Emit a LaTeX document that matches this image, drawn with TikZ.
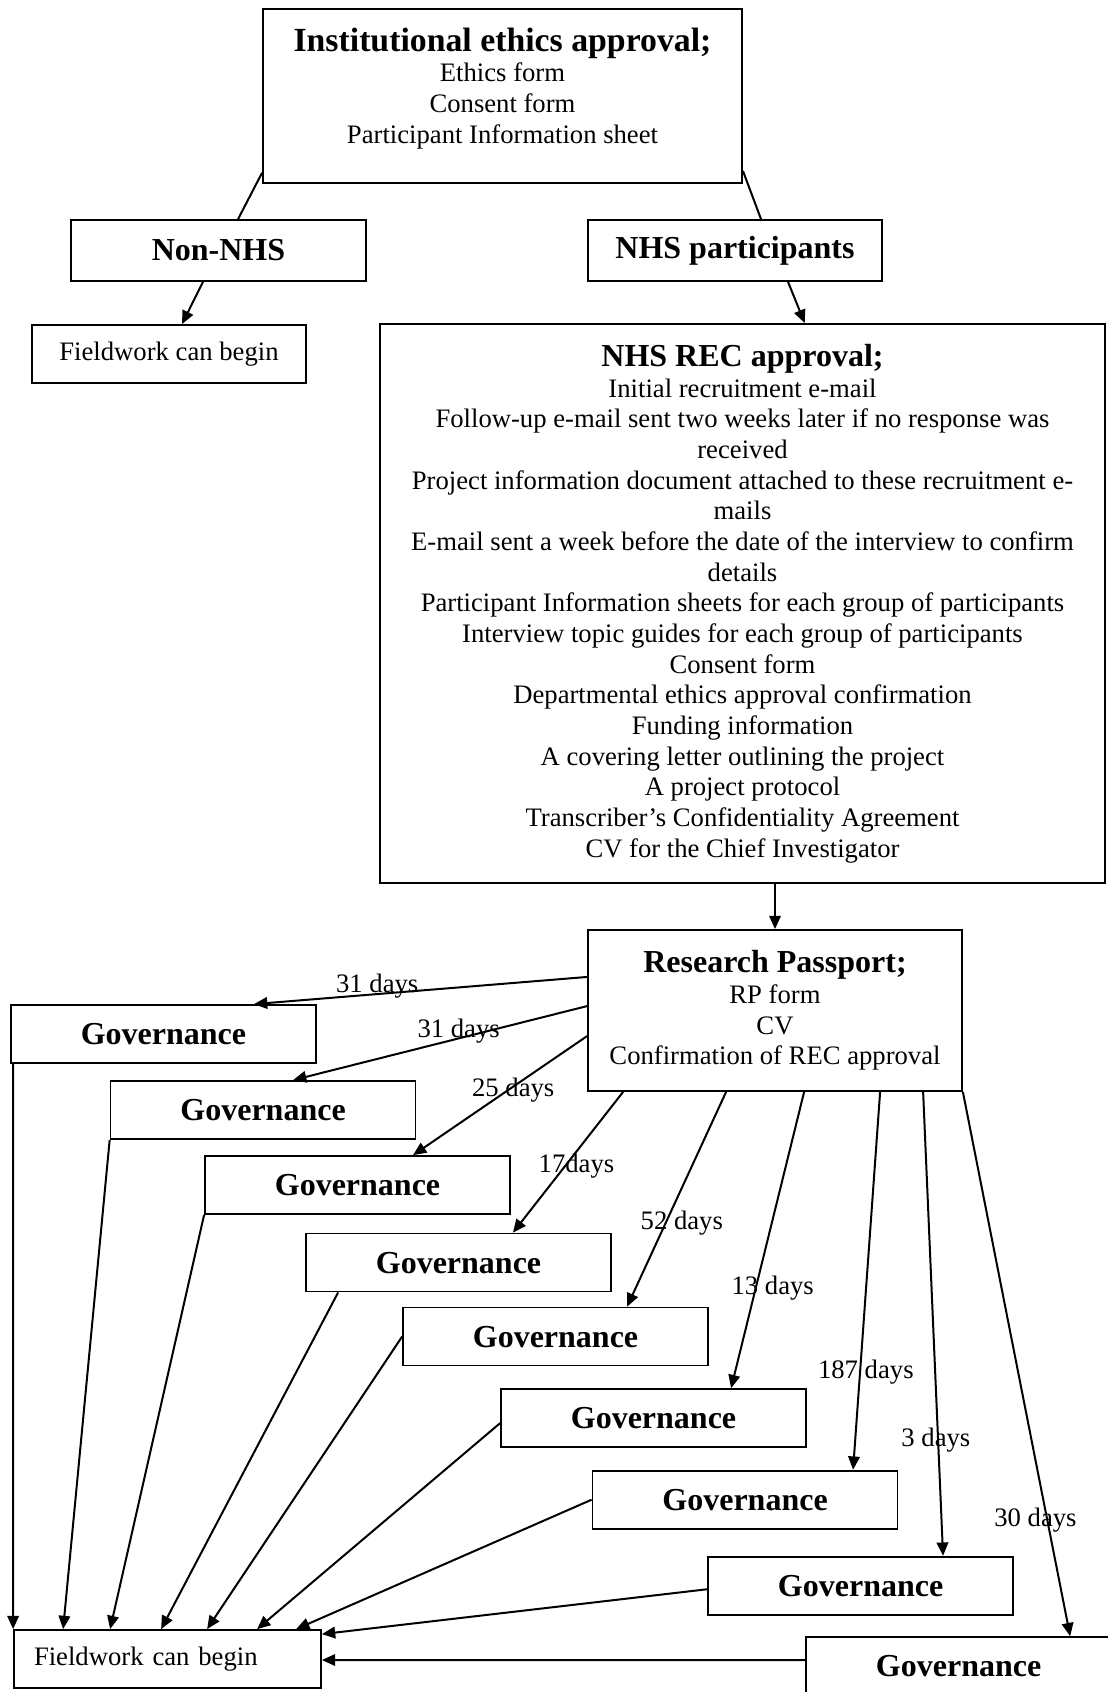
\documentclass[tikz,border=0pt]{standalone}
\usepackage{fontspec}
\setmainfont{Liberation Serif}
\usepackage{tikz}
\usetikzlibrary{shapes, arrows.meta}
\usetikzlibrary{positioning}
\tikzstyle{box} = [rectangle, draw = black, line width = 0.8pt, inner sep = 0,
  text centered, font = \fontsize{12}{13.8}\selectfont]
\tikzstyle{head} = [box, font = \fontsize{14.4}{16}\selectfont\bfseries]
\tikzstyle{gov} = [
  head,
  minimum width = 137.25pt, minimum height = 26.1pt
]
\tikzstyle{days} = [font = \fontsize{12}{13.8}\selectfont, inner sep = 0]
\newcommand{\hd}[1]{{\fontsize{14.4}{16}\selectfont\bfseries #1}}

\begin{document}
\begin{tikzpicture}[x = 0.45pt, y = -0.45pt, node distance = 0,
    line width = 0.9pt, >={Triangle[length = 6pt, width = 5.2pt]}]
      \useasboundingbox (0, 0) rectangle (1107, 1692);
      % ethics
      \node [box] (ethics) at (502.5, 96) {\parbox[c][78.3pt][t]{215.6pt}{\centering
          \vspace*{8.5pt}{\fontsize{15.2}{16}\selectfont\bfseries
          Institutional ethics approval;}\\ Ethics form\\
          Consent form\\ Participant Information sheet}};
      % split
      \node [head, minimum width = 132.75pt, minimum height = 27.45pt] (non-nhs)
        at (218.5, 250.5) {Non-NHS};
      \node [head, minimum width = 132.3pt, minimum height = 27.45pt] (nhs)
        at (735, 250.5) {NHS participants};
      \node [box, minimum width = 123.3pt, minimum height = 26.1pt] (field-a)
        at (169, 354) {Fieldwork can begin};
      % rec
      \node [box, align = center, minimum width = 326.25pt,
        minimum height = 251.55pt] (rec) at (742.5, 603.5) {\hd{NHS REC approval;}\\
        Initial recruitment e-mail\\
        Follow-up e-mail sent two weeks later if no response was\\
        received\\
        Project information document attached to these recruitment e-\\
        mails\\
        E-mail sent a week before the date of the interview to confirm\\
        details\\
        Participant Information sheets for each group of participants\\
        Interview topic guides for each group of participants\\
        Consent form\\
        Departmental ethics approval confirmation\\
        Funding information\\
        A covering letter outlining the project\\
        A project protocol\\
        Transcriber's Confidentiality Agreement\\
        CV for the Chief Investigator};
      % rp
      \node [box, align = center, minimum width = 168.3pt, minimum height = 72.45pt]
        (rp) at (775, 1010.5) {\hd{Research Passport;}\\ RP form\\ CV\\
        Confirmation of REC approval};
      % governance
      \node [gov] (gov-1) at (163.5, 1034) {Governance};
      \node [gov, right of = gov-1, xshift = 44.8, yshift = -34.2] (gov-2) {Governance};
      \node [gov, right of = gov-2, xshift = 42.5, yshift = -33.75] (gov-3) {Governance};
      \node [gov, right of = gov-3, xshift = 45.45, yshift = -34.9] (gov-4) {Governance};
      \node [gov, right of = gov-4, xshift = 43.65, yshift = -33.3] (gov-5) {Governance};
      \node [gov, right of = gov-5, xshift = 44.1, yshift = -36.7] (gov-6) {Governance};
      \node [gov, right of = gov-6, xshift = 41.2, yshift = -36.7] (gov-7) {Governance};
      \node [gov, right of = gov-7, xshift = 52, yshift = -38.7] (gov-8) {Governance};
      \node [gov, right of = gov-8, xshift = 44.1, yshift = -36.2] (gov-9) {Governance};
      \node [box, text width = 120.15pt, align = left, inner xsep = 9pt,
        minimum height = 26.1pt] (field-b) at (167.5, 1659) {Fieldwork can begin};

      \draw ([yshift = 5]ethics.south west) -- ([xshift = 8.8]non-nhs.north);
      \draw ([yshift = 5.85]ethics.south east) -- ([xshift = 11.7]nhs.north);
      \draw [->] ([xshift = -7]non-nhs.south) -- ([xshift = 5.85]field-a.north);
      \draw [->] ([xshift = 23.85]nhs.south) -- ([xshift = 28]rec.north);
      \draw [->] (rec.south -| rp.north) -- (rp.north);
      % passport to governance
      \draw [->] ([yshift = 15.1]rp.west) -- node [days, pos = 0.63, yshift = 3.6]
        {31 days} ([xshift = 40.7]gov-1.north);
      \draw [->] ([yshift = 2]rp.west) -- node [days, pos = 0.437, yshift = 3.5]
        {31 days} ([xshift = 13.5]gov-2.north);
      \draw [->] ([yshift = -11.5]rp.west) -- node [days, pos = 0.45, xshift = 2]
        {25 days} ([xshift = 25]gov-3.north);
      \draw [->] ([xshift = 16.2]rp.south west) -- node [days, pos = 0.528, xshift = 5.2]
        {17days} ([xshift = 24.5]gov-4.north);
      \draw [->] ([xshift = 62.55]rp.south west) -- node [days, pos = 0.611, xshift = 7.3]
        {52 days} ([xshift = 32.2]gov-5.north);
      \draw [->] ([xshift = 97.65]rp.south west) -- node [days, pos = 0.661, xshift = 7.6]
        {13 days} ([xshift = 34.9]gov-6.north);
      \draw [->] ([xshift = 131.85]rp.south west) -- node [days, pos = 0.741, xshift = 2.6]
        {187 days} ([xshift = 48.6]gov-7.north);
      \draw [->] ([xshift = 151.2]rp.south west) -- node [days, pos = 0.75, xshift = -1]
        {3 days} ([xshift = 37.1]gov-8.north);
      \draw [->] (rp.south east) -- node [days, pos = 0.786, xshift = -5.3]
        {30 days} ([xshift = 50.2]gov-9.north);
      % governance to fieldwork
      \draw [->] ([xshift = 1.35]gov-1.south west) -- (field-b.north west);
      \draw [->] (gov-2.south west) -- ([xshift = 22.5]field-b.north west);
      \draw [->] (gov-3.south west) -- ([xshift = 43.65]field-b.north west);
      \draw [->] ([xshift = 14.85]gov-4.south west) -- ([xshift = 66.6]field-b.north west);
      \draw [->] (gov-5.west) -- ([xshift = 87.3]field-b.north west);
      \draw [->] ([yshift = -2.25]gov-6.west) -- ([xshift = 109.8]field-b.north west);
      \draw [->] (gov-7.west) -- ([xshift = 127.35]field-b.north west);
      \draw [->] ([yshift = -1.6]gov-8.west) -- ([yshift = -2.25]field-b.north east);
      \draw [->] ([yshift = 2.7]gov-9.west) -- ([yshift = -0.45]field-b.east);
    \end{tikzpicture}
\end{document}
